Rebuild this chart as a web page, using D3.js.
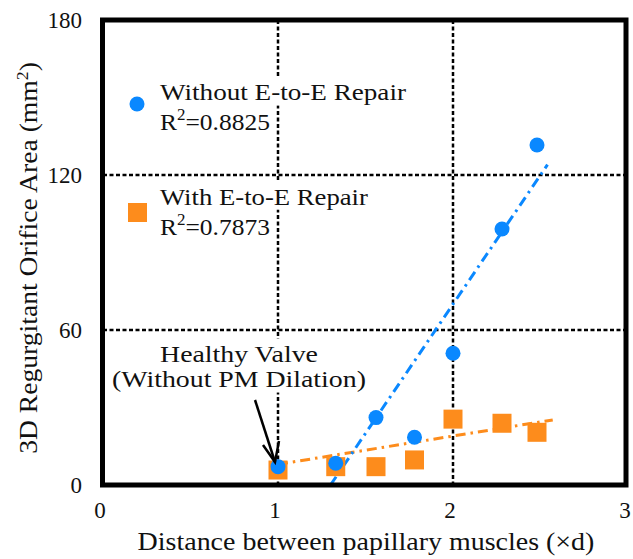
<!DOCTYPE html>
<html>
<head>
<meta charset="utf-8">
<script src="https://cdn.jsdelivr.net/npm/d3@7"></script>
<style>
  body { margin: 0; background: #fff; }
  svg text { font-family: "Liberation Serif", "DejaVu Serif", serif; fill: #111; }
</style>
</head>
<body>
<div class="container"></div>
<script>
const width = 633, height = 559;

// data
const distance = [1.0, 1.33, 1.56, 1.78, 2.0, 2.28, 2.48];
const withoutRepair = [7.1, 8.4, 26.1, 18.5, 51.0, 99.1, 131.6];
const withRepair = [5.8, 7.1, 7.1, 9.7, 25.5, 23.9, 20.4];
// trend line end points [x, y]
const withoutFit = [[1.30, 0], [2.54, 124]];
const withFit = [[1.0, 8.0], [2.57, 25.2]];
const xTicks = [0, 1, 2, 3];
const yTicks = [0, 60, 120, 180];
const xGrid = [1, 2];
const yGrid = [60, 120];

const BLUE = "#0a88ff", ORANGE = "#fd8c1c";
const plotLeft = 103, plotRight = 628, plotTop = 20, plotBottom = 485;

const svg = d3.select(".container")
    .append("svg")
    .attr("width", width)
    .attr("height", height);

const x = d3.scaleLinear().domain([0, 3]).range([plotLeft, plotRight]);
const y = d3.scaleLinear().domain([0, 180]).range([plotBottom, plotTop]);

// dashed grid
const grid = svg.append("g").attr("stroke", "#000").attr("stroke-width", 2.5).attr("stroke-dasharray", "4,2.5");
grid.selectAll(".gx").data(xGrid).enter().append("line")
    .attr("x1", d => x(d)).attr("x2", d => x(d))
    .attr("y1", plotTop).attr("y2", plotBottom);
grid.selectAll(".gy").data(yGrid).enter().append("line")
    .attr("x1", plotLeft).attr("x2", plotRight - 2)
    .attr("y1", d => y(d)).attr("y2", d => y(d));

// white patches behind texts (filled later once text is measured)
const patches = svg.append("g");

// trend lines
const line = d3.line().x(d => x(d[0])).y(d => y(d[1]));
svg.append("path").datum(withFit).attr("d", line)
    .attr("fill", "none").attr("stroke", ORANGE).attr("stroke-width", 3)
    .attr("stroke-dasharray", "10,5,2.5,5");
svg.append("path").datum(withoutFit).attr("d", line)
    .attr("fill", "none").attr("stroke", BLUE).attr("stroke-width", 3)
    .attr("stroke-dasharray", "10,5,2.5,5");

// markers
const sq = 19;
svg.append("g").selectAll("rect")
    .data(distance.map((d, i) => [d, withRepair[i]]))
    .enter().append("rect")
    .attr("x", d => x(d[0]) - sq / 2).attr("y", d => y(d[1]) - sq / 2)
    .attr("width", sq).attr("height", sq)
    .attr("fill", ORANGE);
svg.append("g").selectAll("circle")
    .data(distance.map((d, i) => [d, withoutRepair[i]]))
    .enter().append("circle")
    .attr("cx", d => x(d[0])).attr("cy", d => y(d[1]))
    .attr("r", 7.5)
    .attr("fill", BLUE);

// frame
svg.append("rect")
    .attr("x", plotLeft - 0.5).attr("y", plotTop)
    .attr("width", plotRight - 2 - plotLeft + 0.5).attr("height", plotBottom - plotTop)
    .attr("fill", "none").attr("stroke", "#000").attr("stroke-width", 5);

// tick labels
svg.append("g").selectAll("text").data(xTicks).enter().append("text")
    .attr("x", d => x(d) - 3).attr("y", 518)
    .attr("text-anchor", "middle").attr("font-size", 23)
    .text(d => d);
svg.append("g").selectAll("text").data(yTicks).enter().append("text")
    .attr("x", 82).attr("y", d => y(d) + 8)
    .attr("text-anchor", "end").attr("font-size", 23)
    .text(d => d);

// Liberation Serif is narrower than the original Palatino-like face,
// so stretch each text horizontally to the width seen in the picture
function stretch(t, tx, ty, target, extra, measure) {
    const w = (measure || t).node().getComputedTextLength();
    const s = target / w;
    t.attr("transform", `translate(${tx},${ty}) ${extra || ""} scale(${s},1)`);
    return s;
}

// axis titles
const xt = svg.append("text")
    .attr("text-anchor", "middle").attr("font-size", 25)
    .text("Distance between papillary muscles (\u00d7d)");
stretch(xt, 366, 550, 457);
const yt = svg.append("text")
    .attr("text-anchor", "middle").attr("font-size", 25);
yt.append("tspan").text("3D Regurgitant Orifice Area (mm");
yt.append("tspan").attr("dy", -9).attr("font-size", 16).text("2");
yt.append("tspan").attr("dy", 9).text(")");
stretch(yt, 37, 258, 392, "rotate(-90)");

// legend
svg.append("circle").attr("cx", 137).attr("cy", 104).attr("r", 7.5).attr("fill", BLUE);
svg.append("rect").attr("x", 128).attr("y", 203).attr("width", sq).attr("height", sq).attr("fill", ORANGE);

function addPatch(t, tx, ty, s) {
    const b = t.node().getBBox();
    patches.append("rect")
        .attr("x", tx + b.x * s - 3).attr("y", ty + b.y - 2)
        .attr("width", b.width * s + 6).attr("height", b.height + 2)
        .attr("fill", "#fff");
}

function addLabel(tx, ty, txt, target, r2) {
    const t = svg.append("text").attr("font-size", 24);
    if (r2) {
        t.append("tspan").text("R");
        t.append("tspan").attr("dy", -10).attr("font-size", 16).text("2");
        t.append("tspan").attr("dy", 10).text(txt);
    } else {
        t.text(txt);
    }
    addPatch(t, tx, ty, stretch(t, tx, ty, target));
}
addLabel(160, 100, "Without E-to-E Repair", 246);
addLabel(160, 130, "=0.8825", 110, true);
addLabel(160, 205, "With E-to-E Repair", 208);
addLabel(160, 235, "=0.7873", 110, true);

// annotation: one centred text, two lines
const note = svg.append("text").attr("font-size", 24).attr("text-anchor", "middle");
note.append("tspan").attr("x", 0).attr("y", 0).text("Healthy Valve");
const noteLong = note.append("tspan").attr("x", 0).attr("y", 25).text("(Without PM Dilation)");
addPatch(note, 239, 362, stretch(note, 239, 362, 254, "", noteLong));

// arrow to healthy valve point
const tip = [275, 462];
svg.append("line")
    .attr("x1", 255).attr("y1", 400).attr("x2", tip[0]).attr("y2", tip[1])
    .attr("stroke", "#000").attr("stroke-width", 2.5);
svg.append("path")
    .attr("d", `M${tip[0] - 12},${tip[1] - 17} L${tip[0]},${tip[1]} L${tip[0] + 4},${tip[1] - 21}`)
    .attr("fill", "none").attr("stroke", "#000").attr("stroke-width", 2.5)
    .attr("stroke-linejoin", "miter");
</script>
</body>
</html>
